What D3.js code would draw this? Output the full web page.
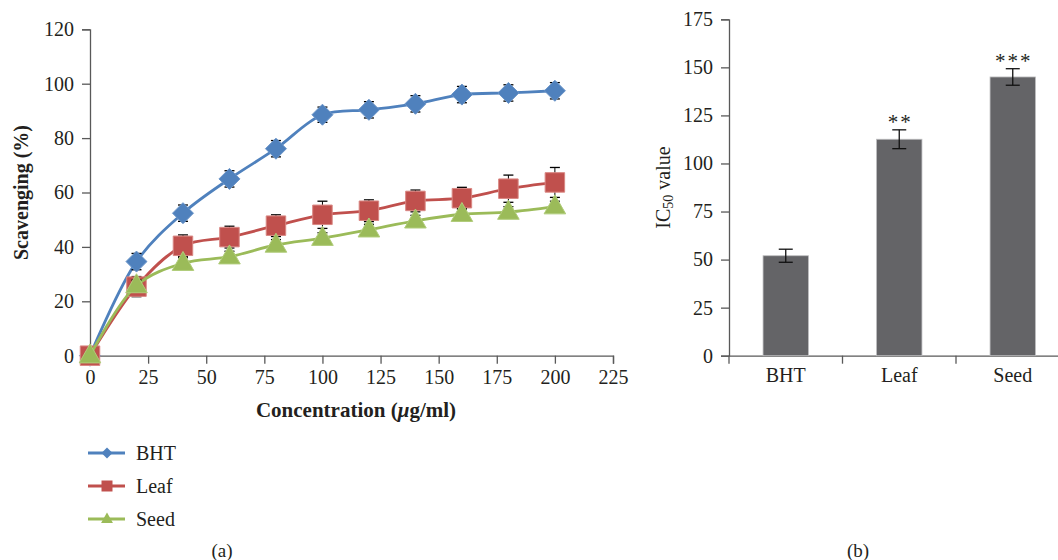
<!DOCTYPE html>
<html>
<head>
<meta charset="utf-8">
<script src="https://cdn.jsdelivr.net/npm/d3@7"></script>
<style>
  html, body { margin: 0; padding: 0; background: #fff; }
  svg { display: block; }
  text { font-family: "Liberation Serif", "Times New Roman", serif; fill: #231f20; }
</style>
</head>
<body>
<svg id="chart" width="1058" height="560"></svg>
<script>
// ---------- data ----------
const concentrations = [0, 20, 40, 60, 80, 100, 120, 140, 160, 180, 200];
const bhtValues  = [0, 34.6, 52.4, 65.0, 76.1, 88.6, 90.4, 92.6, 96.0, 96.6, 97.4];
const leafValues = [0, 25.4, 40.4, 43.6, 47.8, 51.8, 53.3, 56.9, 57.9, 61.4, 63.7];
const seedValues = [0, 25.8, 34.0, 36.4, 40.7, 43.2, 46.3, 49.6, 52.0, 52.8, 54.8];
const bhtErrors  = [0, 3, 3, 3, 3, 2.8, 3, 3, 3, 3, 3];
const leafErrors = [0, 3.7, 4, 4, 4, 5, 4, 4, 4, 5, 5.5];
const seedErrors = [0, 2, 2, 2, 2, 2, 2, 2, 2, 2, 2];
const seriesNames = ["BHT", "Leaf", "Seed"];
const xTicksA = [0, 25, 50, 75, 100, 125, 150, 175, 200, 225];
const yTicksA = [0, 20, 40, 60, 80, 100, 120];

const ic50Categories = ["BHT", "Leaf", "Seed"];
const ic50Values = [52.0, 112.6, 145.0];
const ic50Errors = [3.4, 4.9, 4.3];
const ic50Stars = ["", "**", "***"];
const yTicksB = [0, 25, 50, 75, 100, 125, 150, 175];

// ---------- styles ----------
const colors = {BHT: "#4f81bd", Leaf: "#c0504d", Seed: "#9bbb59"};
const edgeColors = {BHT: "#6a94c8", Leaf: "#d98783", Seed: "#b0cc7a"};
const axisColor = "#595959";

const svg = d3.select("#chart");
svg.append("rect").attr("width", 1058).attr("height", 560).attr("fill", "#fff");

// ---------- chart (a) ----------
const xA = d3.scaleLinear().domain([0, 225]).range([90, 613]);
const yA = d3.scaleLinear().domain([0, 120]).range([355.7, 29.3]);

const gA = svg.append("g");

const axA_y = gA.append("g").attr("transform", `translate(${xA(0)},0)`)
  .call(d3.axisLeft(yA).tickValues(yTicksA).tickSize(8).tickPadding(8));
const axA_x = gA.append("g").attr("transform", `translate(0,${yA(0)})`)
  .call(d3.axisBottom(xA).tickValues(xTicksA).tickSize(8).tickPadding(6));
[axA_y, axA_x].forEach(a => {
  a.attr("font-family", null);
  a.select(".domain").attr("stroke", axisColor).attr("stroke-width", 1.3);
  a.selectAll(".tick line").attr("stroke", axisColor).attr("stroke-width", 1.3);
  a.selectAll(".tick text").attr("font-size", 20).attr("fill", "#231f20");
});

gA.append("text")
  .attr("transform", `translate(23,${(yA(0)+yA(120))/2}) rotate(-90)`)
  .attr("text-anchor", "middle").attr("dominant-baseline", "middle")
  .attr("font-size", 20).attr("font-weight", "bold")
  .text("Scavenging (%)");

const xt = gA.append("text")
  .attr("x", 356).attr("y", 417)
  .attr("text-anchor", "middle")
  .attr("font-size", 21).attr("font-weight", "bold");
xt.append("tspan").text("Concentration (");
xt.append("tspan").attr("font-style", "italic").text("μ");
xt.append("tspan").text("g/ml)");

const seriesData = [
  {name: "BHT", values: bhtValues, errors: bhtErrors},
  {name: "Leaf", values: leafValues, errors: leafErrors},
  {name: "Seed", values: seedValues, errors: seedErrors}
];

const line = d3.line()
  .x(d => xA(d.x)).y(d => yA(d.y))
  .curve(d3.curveCatmullRom.alpha(0.5));

function markerPath(name, size) {
  if (name === "BHT") {
    const h = size / 2;
    return `M0,${-h}L${h},0L0,${h}L${-h},0Z`;
  } else if (name === "Leaf") {
    const h = size / 2;
    return `M${-h},${-h}L${h},${-h}L${h},${h}L${-h},${h}Z`;
  } else {
    const w = size * 1.08 / 2, hh = size * 0.95;
    return `M0,${-hh*0.62}L${w},${hh*0.38}L${-w},${hh*0.38}Z`;
  }
}

seriesData.forEach(s => {
  const pts = concentrations.map((c, i) => ({x: c, y: s.values[i], e: s.errors[i]}));
  const g = gA.append("g");
  g.append("path").datum(pts)
    .attr("d", line)
    .attr("fill", "none")
    .attr("stroke", colors[s.name])
    .attr("stroke-width", 2.8);
  const eb = g.selectAll(".eb").data(pts.filter(p => p.e > 0)).enter().append("g");
  eb.append("line")
    .attr("x1", d => xA(d.x)).attr("x2", d => xA(d.x))
    .attr("y1", d => yA(d.y - d.e)).attr("y2", d => yA(d.y + d.e))
    .attr("stroke", "#000").attr("stroke-width", 1);
  [-1, 1].forEach(sign => {
    eb.append("line")
      .attr("x1", d => xA(d.x) - 5).attr("x2", d => xA(d.x) + 5)
      .attr("y1", d => yA(d.y + sign * d.e)).attr("y2", d => yA(d.y + sign * d.e))
      .attr("stroke", "#000").attr("stroke-width", 1.3);
  });
  const msize = s.name === "BHT" ? 21 : (s.name === "Leaf" ? 19.5 : 20);
  g.selectAll(".mk").data(pts).enter().append("path")
    .attr("transform", d => `translate(${xA(d.x)},${yA(d.y)})`)
    .attr("d", markerPath(s.name, msize))
    .attr("fill", colors[s.name])
    .attr("stroke", edgeColors[s.name]).attr("stroke-width", 1);
});

// legend
const legend = svg.append("g");
const legendY = d3.scalePoint().domain(seriesNames).range([453, 519]);
seriesNames.forEach(n => {
  const y = legendY(n);
  legend.append("line").attr("x1", 88).attr("x2", 125).attr("y1", y).attr("y2", y)
    .attr("stroke", colors[n]).attr("stroke-width", 2.8);
  legend.append("path").attr("transform", `translate(107,${y})`)
    .attr("d", markerPath(n, 11))
    .attr("fill", colors[n]);
  legend.append("text").attr("x", 136).attr("y", y).attr("dy", "0.35em")
    .attr("font-size", 20).text(n);
});

svg.append("text").attr("x", 222).attr("y", 550).attr("dy", "0.35em")
  .attr("text-anchor", "middle").attr("font-size", 19).text("(a)");

// ---------- chart (b) ----------
const xB = d3.scaleBand().domain(ic50Categories).range([729, 1069.5]).paddingInner(0.6).paddingOuter(0.3);
const yB = d3.scaleLinear().domain([0, 175]).range([355.7, 19.3]);
const gB = svg.append("g");

const axB_y = gB.append("g").attr("transform", `translate(${xB.range()[0]},0)`)
  .call(d3.axisLeft(yB).tickValues(yTicksB).tickSize(8).tickPadding(8));
const axB_x = gB.append("g").attr("transform", `translate(0,${yB(0)})`)
  .call(d3.axisBottom(xB).tickSize(0).tickPadding(12));
[axB_y, axB_x].forEach(a => {
  a.attr("font-family", null);
  a.select(".domain").attr("stroke", axisColor).attr("stroke-width", 1.3);
  a.selectAll(".tick line").attr("stroke", axisColor).attr("stroke-width", 1.3);
  a.selectAll(".tick text").attr("font-size", 20).attr("fill", "#231f20");
});
// category boundary ticks
const boundaries = ic50Categories.map((c, i) => i === 0 ? xB.range()[0] : xB(c) - xB.step() * xB.paddingInner() / 2);
gB.selectAll(".bt").data(boundaries).enter().append("line")
  .attr("x1", d => d).attr("x2", d => d)
  .attr("y1", yB(0)).attr("y2", yB(0) + 8)
  .attr("stroke", axisColor).attr("stroke-width", 1.3);

gB.selectAll(".bar").data(ic50Categories).enter().append("rect")
  .attr("x", c => xB(c))
  .attr("width", xB.bandwidth())
  .attr("y", (c, i) => yB(ic50Values[i]))
  .attr("height", (c, i) => yB(0) - yB(ic50Values[i]))
  .attr("fill", "#646467")
  .attr("stroke", "#bdbdbf").attr("stroke-width", 0.8);

ic50Categories.forEach((c, i) => {
  const cx = xB(c) + xB.bandwidth() / 2;
  const top = yB(ic50Values[i] + ic50Errors[i]);
  const bot = yB(ic50Values[i] - ic50Errors[i]);
  gB.append("line").attr("x1", cx).attr("x2", cx).attr("y1", top).attr("y2", bot)
    .attr("stroke", "#111").attr("stroke-width", 1.3);
  [top, bot].forEach(y => gB.append("line").attr("x1", cx - 7).attr("x2", cx + 7)
    .attr("y1", y).attr("y2", y).attr("stroke", "#111").attr("stroke-width", 1.3));
  if (ic50Stars[i]) {
    gB.append("text").attr("x", cx + 1).attr("y", top - 1)
      .attr("text-anchor", "middle").attr("font-size", 21)
      .attr("letter-spacing", 2)
      .attr("fill", "#444")
      .text(ic50Stars[i]);
  }
});

const yt = gB.append("text")
  .attr("transform", `translate(665,${(yB(0)+yB(175))/2}) rotate(-90)`)
  .attr("text-anchor", "middle").attr("dominant-baseline", "middle")
  .attr("font-size", 20);
yt.append("tspan").text("IC");
yt.append("tspan").attr("font-size", 14).attr("dy", 5).text("50");
yt.append("tspan").attr("dy", -5).text(" value");

svg.append("text").attr("x", 858).attr("y", 550).attr("dy", "0.35em")
  .attr("text-anchor", "middle").attr("font-size", 19).text("(b)");
</script>
</body>
</html>
